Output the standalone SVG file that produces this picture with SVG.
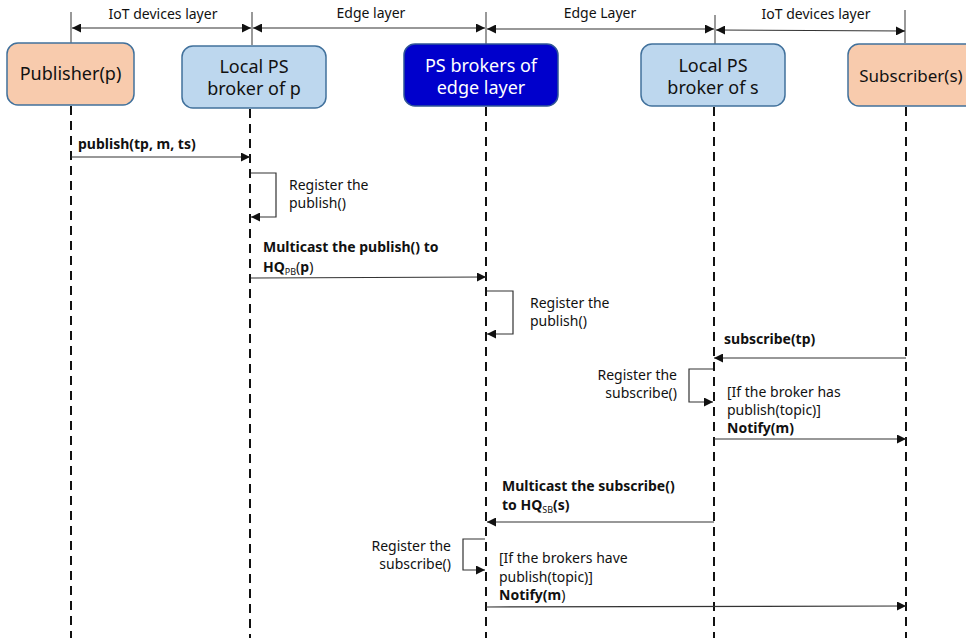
<svg xmlns="http://www.w3.org/2000/svg" width="966" height="638" viewBox="0 0 966 638">
  <style>
    text { font-family: "Noto Sans", "Open Sans", "Liberation Sans", sans-serif; fill: #111; }
    .lbl { font-size: 14px; }
    .b { font-weight: bold; }
    .n { font-weight: normal; }
    .box { font-size: 18px; text-anchor: middle; }
    .sub { font-size: 9px; }
    .life { stroke: #111; stroke-width: 2; stroke-dasharray: 9 6; fill: none; }
    .tick { stroke: #555; stroke-width: 1.2; fill: none; }
    .msg { stroke: #333; stroke-width: 1.2; fill: none; }
    .peach { fill: #F8CBAD; stroke: #41719C; stroke-width: 1.5; }
    .light { fill: #BDD7EE; stroke: #41719C; stroke-width: 1.5; }
    .dark { fill: #0000CC; stroke: #2F5597; stroke-width: 1.5; }
  </style>
  <defs>
    <marker id="ah" viewBox="0 0 10 10" refX="10" refY="5" markerWidth="9" markerHeight="9" markerUnits="userSpaceOnUse" orient="auto-start-reverse">
      <path d="M0,0 L10,5 L0,10 z" fill="#111"/>
    </marker>
  </defs>

  <rect width="966" height="638" fill="#fff"/>

  <!-- layer bands above the lifelines -->
  <g id="layers">
    <line class="tick" x1="71" y1="12" x2="71" y2="43"/>
    <line class="tick" x1="252" y1="12" x2="252" y2="45"/>
    <line class="tick" x1="486" y1="12" x2="486" y2="44"/>
    <line class="tick" x1="715" y1="15" x2="715" y2="46"/>
    <line class="tick" x1="905" y1="10" x2="905" y2="43"/>
    <line class="msg" x1="72" y1="28" x2="251" y2="28" marker-start="url(#ah)" marker-end="url(#ah)"/>
    <line class="msg" x1="253" y1="28" x2="485" y2="28" marker-start="url(#ah)" marker-end="url(#ah)"/>
    <line class="msg" x1="487" y1="29" x2="714" y2="29" marker-start="url(#ah)" marker-end="url(#ah)"/>
    <line class="msg" x1="716" y1="30" x2="905" y2="31" marker-start="url(#ah)" marker-end="url(#ah)"/>
    <text class="lbl" x="163" y="19" text-anchor="middle">IoT devices layer</text>
    <text class="lbl" x="371" y="18" text-anchor="middle">Edge layer</text>
    <text class="lbl" x="600" y="18" text-anchor="middle">Edge Layer</text>
    <text class="lbl" x="816" y="19" text-anchor="middle">IoT devices layer</text>
  </g>

  <!-- lifelines -->
  <g id="lifelines">
    <line class="life" x1="71" y1="106" x2="71" y2="638"/>
    <line class="life" x1="250" y1="109" x2="250" y2="638"/>
    <line class="life" x1="486" y1="107" x2="486" y2="638"/>
    <line class="life" x1="714" y1="107" x2="714" y2="638"/>
    <line class="life" x1="906" y1="107" x2="906" y2="638"/>
  </g>

  <g id="publisher">
    <rect class="peach" x="7" y="43" width="127" height="62" rx="11"/>
    <text class="box" x="70.5" y="80">Publisher(p)</text>
  </g>
  <g id="local-broker-p">
    <rect class="light" x="182" y="46" width="144" height="62" rx="11"/>
    <text class="box" x="254" y="73">Local PS</text>
    <text class="box" x="254" y="95">broker of p</text>
  </g>
  <g id="edge-brokers">
    <rect class="dark" x="404" y="44" width="154" height="62" rx="11"/>
    <text class="box" x="481" y="72" style="fill:#fff">PS brokers of</text>
    <text class="box" x="481" y="94" style="fill:#fff">edge layer</text>
  </g>
  <g id="local-broker-s">
    <rect class="light" x="641" y="44" width="144" height="62" rx="11"/>
    <text class="box" x="713" y="72">Local PS</text>
    <text class="box" x="713" y="94">broker of s</text>
  </g>
  <g id="subscriber">
    <rect class="peach" x="848" y="44" width="130" height="62" rx="11"/>
    <text class="box" x="911" y="82" style="font-size:17px">Subscriber(s)</text>
  </g>

  <!-- messages -->
  <g id="connectors">
    <line class="msg" x1="71" y1="157" x2="250" y2="157" marker-end="url(#ah)"/>
    <polyline class="msg" points="251,173 276,173 276,217 251,217" marker-end="url(#ah)"/>
    <line class="msg" x1="251" y1="278" x2="486" y2="277" marker-end="url(#ah)"/>
    <polyline class="msg" points="487,291 513,291 513,334 487,334" marker-end="url(#ah)"/>
    <line class="msg" x1="906" y1="358" x2="714" y2="358" marker-end="url(#ah)"/>
    <polyline class="msg" points="713,369 689,369 689,402 713,402" marker-end="url(#ah)"/>
    <line class="msg" x1="714" y1="439" x2="906" y2="439" marker-end="url(#ah)"/>
    <line class="msg" x1="714" y1="522" x2="487" y2="522" marker-end="url(#ah)"/>
    <polyline class="msg" points="485,539 463,539 463,570 485,570" marker-end="url(#ah)"/>
    <line class="msg" x1="486" y1="607" x2="906" y2="606" marker-end="url(#ah)"/>
  </g>

  <g id="labels">
    <text class="lbl b" x="78" y="149">publish(tp, m, ts)</text>
    <text class="lbl" x="289" y="190">Register the</text>
    <text class="lbl" x="289" y="208">publish()</text>
    <text class="lbl b" x="263" y="252">Multicast the publish() to</text>
    <text class="lbl b" x="263" y="272">HQ<tspan class="sub n" dy="3">PB</tspan><tspan class="n" dy="-3">(</tspan>p<tspan class="n">)</tspan></text>
    <text class="lbl" x="530" y="308">Register the</text>
    <text class="lbl" x="530" y="326">publish()</text>
    <text class="lbl b" x="724" y="344">subscribe(tp)</text>
    <text class="lbl" x="677" y="380" text-anchor="end">Register the</text>
    <text class="lbl" x="677" y="398" text-anchor="end">subscribe()</text>
    <text class="lbl" x="727" y="397">[If the broker has</text>
    <text class="lbl" x="727" y="415">publish(topic)]</text>
    <text class="lbl b" x="727" y="433">Notify(m)</text>
    <text class="lbl b" x="502" y="491">Multicast the subscribe()</text>
    <text class="lbl b" x="502" y="510">to HQ<tspan class="sub n" dy="3">SB</tspan><tspan dy="-3">(s)</tspan></text>
    <text class="lbl" x="451" y="551" text-anchor="end">Register the</text>
    <text class="lbl" x="451" y="569" text-anchor="end">subscribe()</text>
    <text class="lbl" x="499" y="563">[If the brokers have</text>
    <text class="lbl" x="499" y="582">publish(topic)]</text>
    <text class="lbl b" x="499" y="600">Notify(m<tspan class="n">)</tspan></text>
  </g>
</svg>
